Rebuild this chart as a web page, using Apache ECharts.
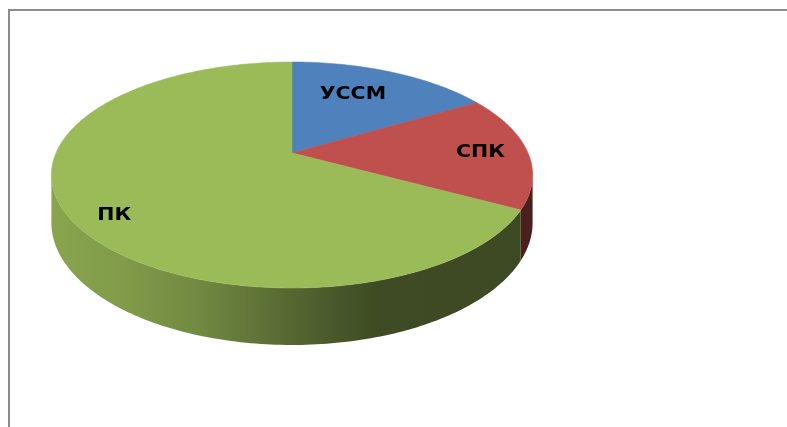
<!DOCTYPE html>
<html>
<head>
<meta charset="utf-8">
<style>
  html, body { margin: 0; padding: 0; background: #fff; }
  #chart { width: 787px; height: 427px; }
</style>
</head>
<body>
<div id="chart"></div>
<script src="https://cdn.jsdelivr.net/npm/echarts@6/dist/echarts.min.js"></script>
<script>
// доли секторов
var categories = ['УССМ', 'СПК', 'ПК'];
var values = [16.5, 16.4, 67.1];
var colors = ['#4f81bd', '#c0504d', '#9bbb59'];

// геометрия "объёмного" круга (перспектива как в Excel)
var cx = 292, cy = 153;
var rx = 236, ry = 108.7, persp = 0.1947, depth = 45.9;
// подписи: доля радиуса и сдвиг угла от середины сектора
var labelR = [0.67, 0.8, 0.85];
var labelShift = [-4.2, 0.4, -6.3];

var total = values.reduce(function (s, v) { return s + v; }, 0);
var starts = [];
var acc = 0;
values.forEach(function (v) { starts.push(acc / total * 360); acc += v; });

// угол от 12 часов по часовой стрелке
function pt(deg, r, down) {
  var t = deg * Math.PI / 180;
  var u = r * Math.sin(t), v = r * Math.cos(t);
  var k = 1 + persp * v;
  return [cx + rx * u / k, cy - ry * v / k + (down ? depth / k : 0)];
}

function arc(a0, a1, r, down) {
  var pts = [];
  var n = Math.max(2, Math.ceil(Math.abs(a1 - a0)));
  for (var i = 0; i <= n; i++) pts.push(pt(a0 + (a1 - a0) * i / n, r, down));
  return pts;
}

function shade(hex, f) {
  var c = parseInt(hex.slice(1), 16);
  var r = Math.round(((c >> 16) & 255) * f);
  var g = Math.round(((c >> 8) & 255) * f);
  var b = Math.round((c & 255) * f);
  return 'rgb(' + r + ',' + g + ',' + b + ')';
}

function sideFill(hex) {
  var stops = [[0, 0.88], [0.15, 0.83], [0.31, 0.73], [0.47, 0.58], [0.6, 0.46], [0.68, 0.40], [1, 0.39]];
  return {
    type: 'linear', x: cx - 242, y: 0, x2: cx + 243, y2: 0, global: true,
    colorStops: stops.map(function (s) { return { offset: s[0], color: shade(hex, s[1]) }; })
  };
}

var edge = Math.asin(persp) * 180 / Math.PI;
var wallFrom = 90 + edge, wallTo = 270 - edge;

var chart = echarts.init(document.getElementById('chart'));
chart.setOption({
  animation: false,
  graphic: [{
    type: 'rect', silent: true,
    shape: { x: 9, y: 10, width: 800, height: 440 },
    style: { fill: 'none', stroke: '#8c8c8c', lineWidth: 2 }
  }],
  series: [{
    type: 'custom',
    coordinateSystem: 'none',
    data: values,
    renderItem: function (params, api) {
      var i = params.dataIndex;
      var a0 = starts[i], a1 = a0 + api.value(0) / total * 360;
      var children = [];
      var s0 = Math.max(a0, wallFrom), s1 = Math.min(a1, wallTo);
      if (s1 > s0) {
        children.push({
          type: 'polygon', z2: 1,
          shape: { points: arc(s0, s1, 1, false).concat(arc(s1, s0, 1, true)) },
          style: { fill: sideFill(colors[i]) }
        });
      }
      children.push({
        type: 'polygon', z2: 5,
        shape: { points: [[cx, cy]].concat(arc(a0, a1, 1, false)) },
        style: { fill: colors[i], stroke: colors[i], lineWidth: 0.6 }
      });
      var lp = pt((a0 + a1) / 2 + labelShift[i], labelR[i], false);
      children.push({
        type: 'text', z2: 10, x: lp[0], y: lp[1], scaleX: 1.14,
        style: {
          text: categories[i], fill: '#000',
          font: 'bold 18px "DejaVu Sans"', align: 'center', verticalAlign: 'middle'
        }
      });
      return { type: 'group', children: children };
    }
  }]
});
</script>
</body>
</html>
